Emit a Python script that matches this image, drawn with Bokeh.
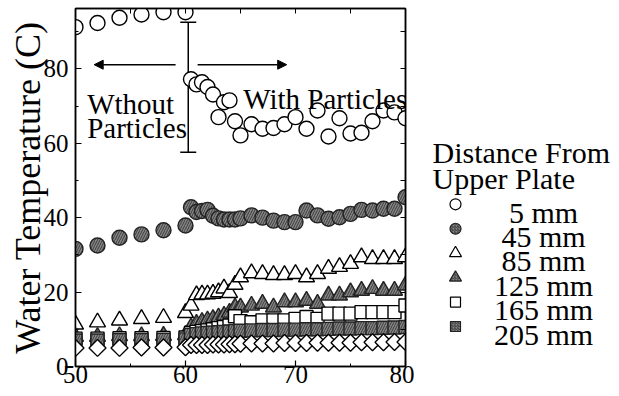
from bokeh.plotting import figure
from bokeh.layouts import row
from bokeh.models import (ColumnDataSource, LinearAxis, SingleIntervalTicker, FixedTicker, Range1d,
                          Label, Arrow, NormalHead, Whisker, TeeHead)
from bokeh.core.properties import value
from bokeh.embed import file_html
from bokeh.resources import INLINE
import math

# ---------------- data ----------------
x_before = [50, 52, 54, 56, 58, 60]
x_after = [60.5, 61, 61.5, 62, 62.5, 63, 63.5, 64, 64.5, 65, 66, 67, 68, 69, 70,
           71, 72, 73, 74, 75, 76, 77, 78, 79, 80]

t5_before = [91.2, 92.3, 93.7, 94.6, 95.2, 95.2]
t5_after = [77.2, 75.8, 76.4, 75.1, 73.1, 67.0, 71.0, 71.5, 65.9, 62.1, 65.1, 63.9, 64.1,
            65.1, 67.0, 63.9, 68.8, 61.8, 66.7, 62.6, 62.8, 65.9, 68.8, 68.3, 66.7]

t45_before = [31.6, 32.5, 34.6, 35.5, 36.6, 37.9]
t45_after = [42.8, 41.5, 41.8, 42.1, 40.5, 39.8, 39.5, 39.5, 39.5, 39.8, 40.6, 40.0, 39.2,
             38.8, 38.8, 41.9, 40.6, 39.7, 40.1, 41.0, 42.1, 41.9, 42.4, 42.4, 45.5]

t85_before = [11.3, 11.9, 12.4, 12.8, 13.1, 14.4]
t85_after = [16.4, 19.2, 19.4, 19.4, 19.6, 20.0, 21.0, 19.8, 22.0, 24.0, 25.1, 24.9, 24.6,
             24.6, 24.9, 24.0, 24.9, 26.3, 26.8, 27.6, 29.4, 28.9, 28.9, 28.9, 29.4]

t125_before = [8.0, 8.0, 8.2, 8.2, 8.3, 8.5]
t125_after = [10.5, 11.5, 12.0, 12.4, 12.8, 13.2, 13.7, 14.5, 15.9, 15.9, 16.4, 16.9, 15.9,
              17.3, 17.3, 17.7, 16.9, 19.1, 19.1, 20.0, 20.4, 20.9, 20.4, 20.4, 21.8]

t165_before = [7.5, 7.5, 7.6, 7.6, 7.7, 7.8]
t165_after = [9.0, 9.3, 9.5, 9.7, 10.0, 10.3, 10.6, 11.0, 13.5, 12.2, 11.9, 12.4, 12.4,
              12.4, 12.8, 13.3, 12.8, 14.2, 14.2, 14.2, 14.6, 14.6, 14.6, 14.6, 16.4]

t205_before = [7.0, 7.0, 7.1, 7.1, 7.2, 7.3]
t205_after = [8.5, 8.7, 8.9, 9.0, 9.1, 9.2, 9.3, 9.4, 9.5, 9.6, 9.7, 9.8, 9.8, 9.9, 9.9,
              10.0, 10.0, 10.1, 10.2, 10.2, 10.3, 10.3, 10.4, 10.5, 10.6]

t245_before = [5.0, 5.0, 5.0, 5.1, 5.1, 5.2]
t245_after = [5.8, 5.8, 5.8, 5.8, 5.9, 5.9, 5.9, 6.0, 6.0, 6.1, 6.2, 6.2, 6.2, 6.3, 6.3,
              6.3, 6.4, 6.4, 6.4, 6.4, 6.5, 6.5, 6.5, 6.6, 6.6]

legend_labels = ["5 mm", "45 mm", "85 mm", "125 mm", "165 mm", "205 mm"]
legend_title = ["Distance From", "Upper Plate"]
y_label = "Water Temperature (C)"
x_minor_top = [55, 60, 65, 70, 75]
y_minor_right = [10, 20, 30, 40, 50, 60, 70, 80, 90]

# ---------------- styling ----------------
FONT = "Liberation Serif"
GREY = "#858585"
HATCH = "#3c3c3c"
OPEN = dict(fill_color="white", line_color="black")
FILLED = dict(fill_color=GREY, line_color="#222222", hatch_pattern="/", hatch_color=HATCH,
              hatch_scale=5, hatch_weight=1)
styles = [
    dict(marker="circle", size=15, **OPEN),
    dict(marker="circle", size=15, **FILLED),
    dict(marker="triangle", size=16, **OPEN),
    dict(marker="triangle", size=16, **FILLED),
    dict(marker="square", size=13, **OPEN),
    dict(marker="square", size=13, **FILLED),
]
key_sizes = [11, 11, 12, 12, 10, 10]

MAIN_W, H = 414, 394
p = figure(width=MAIN_W, height=H, output_backend="svg", toolbar_location=None,
           x_range=Range1d(50, 80), y_range=Range1d(0, 96.2),
           min_border_left=75, min_border_right=9, min_border_top=8, min_border_bottom=28,
           x_axis_location=None, y_axis_location=None)
p.grid.visible = False
p.outline_line_color = "black"
p.outline_line_width = 1.5
p.background_fill_color = "white"
p.border_fill_color = "white"


def style_axis(ax):
    ax.axis_line_color = "black"
    ax.axis_line_width = 1.5
    ax.major_tick_in = 6
    ax.major_tick_out = 0
    ax.minor_tick_in = 3
    ax.minor_tick_out = 0
    ax.major_tick_line_width = 1.2
    ax.minor_tick_line_width = 1.0
    ax.major_tick_line_color = "black"
    ax.minor_tick_line_color = "black"
    ax.major_label_text_font = FONT
    ax.major_label_text_font_size = "25px"
    ax.major_label_text_color = "black"


xb = LinearAxis(ticker=SingleIntervalTicker(interval=10, num_minor_ticks=2))
style_axis(xb)
xb.major_label_standoff = -1
p.add_layout(xb, "below")

yl = LinearAxis(ticker=SingleIntervalTicker(interval=20, num_minor_ticks=2))
style_axis(yl)
yl.major_label_standoff = 7
yl.axis_label = y_label
yl.axis_label_text_font = FONT
yl.axis_label_text_font_size = "36px"
yl.axis_label_text_font_style = "normal"
yl.axis_label_text_color = "black"
yl.axis_label_standoff = -7
p.add_layout(yl, "left")

# label-free tick rows on the top and right edges
xt = LinearAxis(ticker=FixedTicker(ticks=[], minor_ticks=x_minor_top))
style_axis(xt)
xt.minor_tick_in = 5
p.add_layout(xt, "above")
yr = LinearAxis(ticker=FixedTicker(ticks=[], minor_ticks=y_minor_right))
style_axis(yr)
yr.minor_tick_in = 5
p.add_layout(yr, "right")

all_series = [(t5_before, t5_after), (t45_before, t45_after), (t85_before, t85_after),
              (t125_before, t125_after), (t165_before, t165_after), (t205_before, t205_after)]
for (yb, ya), st in zip(all_series, styles):
    src = ColumnDataSource(dict(x=x_before + x_after, y=yb + ya))
    p.scatter("x", "y", source=src, line_width=1.4, **st)

# unlisted deepest series (diamonds)
src_d = ColumnDataSource(dict(x=x_before + x_after, y=t245_before + t245_after))
p.scatter("x", "y", source=src_d, marker="square", angle=math.pi / 4, size=12,
          fill_color="white", line_color="black", line_width=1.4)

# ---------------- annotations ----------------
divider_x, divider_lo, divider_hi = 60.25, 57.6, 92.5
p.add_layout(Whisker(base=divider_x, lower=divider_lo, upper=divider_hi, dimension="height",
                     line_color="black", line_width=1.5,
                     upper_head=TeeHead(size=16, line_color="black", line_width=1.5),
                     lower_head=TeeHead(size=16, line_color="black", line_width=1.5)))
arrow_y = 81.1
p.add_layout(Arrow(x_start=59.1, y_start=arrow_y, x_end=51.7, y_end=arrow_y, line_width=1.5,
                   end=NormalHead(size=9, fill_color="black", line_color="black", line_width=1)))
p.add_layout(Arrow(x_start=61.1, y_start=arrow_y, x_end=69.2, y_end=arrow_y, line_width=1.5,
                   end=NormalHead(size=9, fill_color="black", line_color="black", line_width=1)))

for txt, lx, ly in [("Wthout", 51.06, 70.6), ("Particles", 51.06, 64.1), ("With Particles", 65.25, 72.0)]:
    p.add_layout(Label(x=lx, y=ly, text=txt, text_font=FONT, text_font_size="29px",
                       text_color="black", text_baseline="alphabetic", text_align="left"))

# ---------------- key panel (screen-like coordinates, y downwards) ----------------
KW = 203
lg = figure(width=KW, height=H, output_backend="svg", toolbar_location=None,
            x_range=Range1d(0, KW), y_range=Range1d(H, 0),
            min_border=0, x_axis_location=None, y_axis_location=None)
lg.grid.visible = False
lg.outline_line_color = None
lg.background_fill_color = "white"
lg.border_fill_color = "white"

title_x, title_base0, title_gap = 18, 158, 29
lg.text(x=[title_x] * len(legend_title), y=[title_base0 + i * title_gap for i in range(len(legend_title))],
        text=legend_title, text_font=value(FONT), text_font_size="30px", text_color="black",
        text_baseline="alphabetic", text_align="left")

row0, row_gap, key_x, label_x = 215.5, 26.9, 41, 129
for i, (lab, st, ks) in enumerate(zip(legend_labels, styles, key_sizes)):
    yy = row0 + i * row_gap
    kst = dict(st)
    kst["size"] = ks
    if "hatch_scale" in kst:
        kst["hatch_scale"] = 3
    lg.scatter(x=[key_x], y=[yy], line_width=1.2, **kst)
    lg.text(x=[label_x], y=[yy + 8.5], text=[lab], text_font=value(FONT), text_font_size="30px",
            text_color="black", text_baseline="alphabetic", text_align="center")

open("out.html", "w").write(file_html(row(p, lg), INLINE))
